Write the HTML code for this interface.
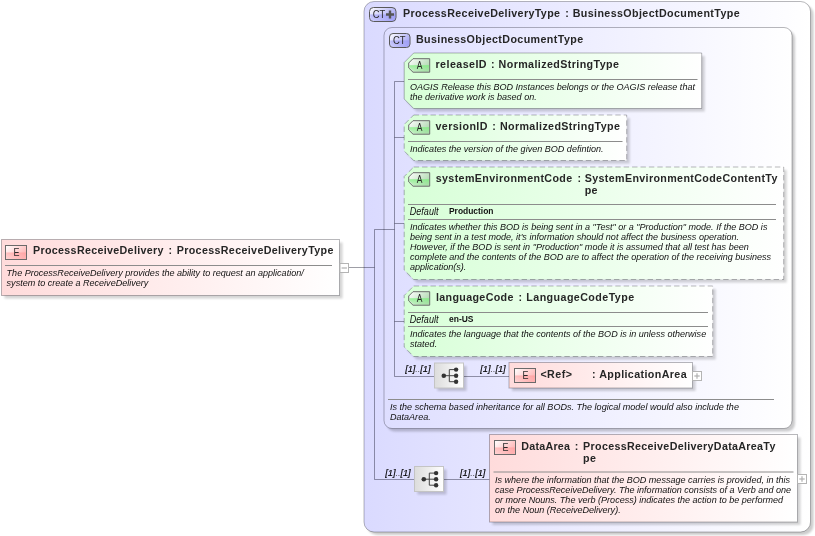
<!DOCTYPE html>
<html><head><meta charset="utf-8"><title>ProcessReceiveDelivery</title>
<style>
html,body{margin:0;padding:0;background:#fff;}
svg{display:block;will-change:transform;font-family:'Liberation Sans',Arial,sans-serif;}
.t{font-size:10.7px;font-weight:bold;fill:#262626;letter-spacing:0.66px;}
.d{font-size:9.6px;font-style:italic;fill:#111;}
.c{font-size:9.4px;font-style:italic;fill:#000;stroke:#000;stroke-width:0.15px;letter-spacing:-0.1px;}
.cd{fill:#555;stroke:none;}
.df{font-size:10.4px;}
.v{font-size:9.5px;font-weight:bold;fill:#111;}
</style></head><body>
<svg width="815" height="536" viewBox="0 0 815 536">
<defs>
<filter id="blur" x="-5%" y="-5%" width="115%" height="115%"><feGaussianBlur stdDeviation="0.9"/></filter>
<linearGradient id="gPink" x1="0" y1="0" x2="1" y2="0"><stop offset="0" stop-color="#ffdbdb"/><stop offset="1" stop-color="#ffffff"/></linearGradient>
<linearGradient id="gGreen" x1="0" y1="0" x2="1" y2="0"><stop offset="0" stop-color="#d7ffd7"/><stop offset="1" stop-color="#ffffff"/></linearGradient>
<linearGradient id="gOuter" x1="0" y1="0" x2="1" y2="0"><stop offset="0" stop-color="#dadaff"/><stop offset="1" stop-color="#ffffff"/></linearGradient>
<linearGradient id="gInner" x1="0" y1="0" x2="1" y2="0"><stop offset="0" stop-color="#dedeff"/><stop offset="1" stop-color="#ffffff"/></linearGradient>
<linearGradient id="gGray" x1="0" y1="0" x2="1" y2="0"><stop offset="0" stop-color="#dcdcdc"/><stop offset="1" stop-color="#ffffff"/></linearGradient>
<linearGradient id="gBadgeE" x1="0" y1="0" x2="1" y2="0.6"><stop offset="0" stop-color="#ffffff"/><stop offset="1" stop-color="#ffb4b4"/></linearGradient>
<linearGradient id="gGlossE" x1="0" y1="0" x2="0" y2="1"><stop offset="0" stop-color="#ff9090" stop-opacity="0.55"/><stop offset="1" stop-color="#ffb0b0" stop-opacity="0.25"/></linearGradient>
<linearGradient id="gBadgeA" x1="0" y1="0" x2="1" y2="0.6"><stop offset="0" stop-color="#ffffff"/><stop offset="1" stop-color="#b0d8b0"/></linearGradient>
<linearGradient id="gGlossA" x1="0" y1="0" x2="0" y2="1"><stop offset="0" stop-color="#70f070" stop-opacity="0.7"/><stop offset="1" stop-color="#a0f0a0" stop-opacity="0.3"/></linearGradient>
<linearGradient id="gBadgeC" x1="0" y1="0" x2="1" y2="0.6"><stop offset="0" stop-color="#ffffff"/><stop offset="1" stop-color="#a4a4f4"/></linearGradient>
<linearGradient id="gGlossC" x1="0" y1="0" x2="0" y2="1"><stop offset="0" stop-color="#9090f4" stop-opacity="0.55"/><stop offset="1" stop-color="#b0b0ff" stop-opacity="0.25"/></linearGradient>
</defs>

<g transform="translate(3,3)" fill="#000" opacity="0.2" filter="url(#blur)"><rect x="364" y="1.5" width="446.5" height="530.5" rx="10"/></g>
<rect x="364" y="1.5" width="446.5" height="530.5" rx="10" fill="url(#gOuter)" stroke="rgba(0,0,10,0.28)" stroke-width="1"/>
<rect x="369.5" y="7.5" width="26.5" height="14" rx="4" fill="url(#gBadgeC)" stroke="#5a5a5a"/>
<path d="M370.2,14.5 H395.3 V18 Q395.3,20.8 392.5,20.8 H373 Q370.2,20.8 370.2,18 Z" fill="url(#gGlossC)"/>
<text transform="translate(372.8,18.3) scale(0.9,1)" font-size="10.5" fill="#2a2a2a">CT</text>
<path d="M386,14.5 h8 M390,10.5 v8" stroke="#555" stroke-width="2.4" fill="none"/>
<text x="403.00" y="16.6" class="t" style="letter-spacing:0.371px">ProcessReceiveDeliveryType</text><text x="565.20" y="16.6" class="t">:</text><text x="572.70" y="16.6" class="t" style="letter-spacing:0.389px">BusinessObjectDocumentType</text>
<g transform="translate(3,3)" fill="#000" opacity="0.2" filter="url(#blur)"><rect x="384" y="27.5" width="408" height="401" rx="8"/></g>
<rect x="384" y="27.5" width="408" height="401" rx="8" fill="url(#gInner)" stroke="rgba(0,0,10,0.28)" stroke-width="1"/>
<rect x="389.5" y="33.5" width="20.5" height="14" rx="3.5" fill="url(#gBadgeC)" stroke="#5a5a5a"/>
<path d="M390.2,40.5 H409.3 V44 Q409.3,46.8 406.5,46.8 H393 Q390.2,46.8 390.2,44 Z" fill="url(#gGlossC)"/>
<text transform="translate(399.2,44.4) scale(0.9,1)" font-size="10.5" fill="#2a2a2a" text-anchor="middle">CT</text>
<text x="415.90" y="42.6" class="t" style="letter-spacing:0.401px">BusinessObjectDocumentType</text>
<polyline points="349,267.5 374.5,267.5" fill="none" stroke="rgba(0,0,20,0.38)" stroke-width="1"/>
<polyline points="394.5,229.5 374.5,229.5 374.5,479.5 414.5,479.5" fill="none" stroke="rgba(0,0,20,0.38)" stroke-width="1"/>
<polyline points="444,479.5 489.5,479.5" fill="none" stroke="rgba(0,0,20,0.38)" stroke-width="1"/>
<polyline points="404.5,81.5 394.5,81.5 394.5,376.5 434,376.5" fill="none" stroke="rgba(0,0,20,0.38)" stroke-width="1"/>
<polyline points="463,376.5 509,376.5" fill="none" stroke="rgba(0,0,20,0.38)" stroke-width="1"/>
<polyline points="394.5,137.5 404.5,137.5" fill="none" stroke="rgba(0,0,20,0.38)" stroke-width="1"/>
<polyline points="394.5,223.5 404.5,223.5" fill="none" stroke="rgba(0,0,20,0.38)" stroke-width="1"/>
<polyline points="394.5,321.5 404.5,321.5" fill="none" stroke="rgba(0,0,20,0.38)" stroke-width="1"/>
<g transform="translate(3,3)" fill="#000" opacity="0.17" filter="url(#blur)"><rect x="1.5" y="239.5" width="338" height="56"/></g><rect x="1.5" y="239.5" width="338" height="56" fill="url(#gPink)" stroke="rgba(0,0,10,0.28)" stroke-width="1"/>
<rect x="5.5" y="245.5" width="21" height="14" fill="url(#gBadgeE)" stroke="#6a6a6a" stroke-width="1"/><rect x="6.1" y="252.5" width="19.8" height="6.4" fill="url(#gGlossE)"/><text transform="translate(16.5,256.3) scale(0.9,1)" font-size="10" text-anchor="middle" fill="#2a2a2a">E</text>
<text x="33.00" y="254.0" class="t" style="letter-spacing:0.327px">ProcessReceiveDelivery</text><text x="168.60" y="254.0" class="t">:</text><text x="176.70" y="254.0" class="t" style="letter-spacing:0.359px">ProcessReceiveDeliveryType</text>
<line x1="5" y1="265.5" x2="332" y2="265.5" stroke="#8c8c8c" stroke-width="1"/>
<text x="6.6" y="275.6" class="d" textLength="297.13" lengthAdjust="spacingAndGlyphs">The ProcessReceiveDelivery provides the ability to request an application/</text><text x="6.6" y="285.6" class="d" textLength="141.73" lengthAdjust="spacingAndGlyphs">system to create a ReceiveDelivery</text>
<rect x="340" y="263.5" width="8.5" height="9" fill="#fff" stroke="#b4b4b4" stroke-width="1"/><line x1="341.55" y1="268.0" x2="346.95" y2="268.0" stroke="#b0b0b0" stroke-width="1.2"/>
<g transform="translate(3,3)" fill="#000" opacity="0.17" filter="url(#blur)"><path d="M413.7,53 L701.7,53 L701.7,108.5 L413.7,108.5 L404.2,99.0 L404.2,62.5 Z"/></g><path d="M413.7,53 L701.7,53 L701.7,108.5 L413.7,108.5 L404.2,99.0 L404.2,62.5 Z" fill="url(#gGreen)" stroke="rgba(0,0,10,0.28)" stroke-width="1"/>
<path d="M413.0,58.7 L429.7,58.7 L429.7,72.2 L413.0,72.2 L408.7,67.9 L408.7,63.0 Z" fill="url(#gBadgeA)" stroke="#6a6a6a" stroke-width="1"/><path d="M409.3,65.3 L429.09999999999997,65.3 L429.09999999999997,71.60000000000001 L413.3,71.60000000000001 L409.3,67.60000000000001 Z" fill="url(#gGlossA)"/><text transform="translate(419.7,69.3) scale(0.85,1)" font-size="10" text-anchor="middle" fill="#2a2a2a">A</text>
<text x="435.50" y="67.7" class="t" style="letter-spacing:0.438px">releaseID</text><text x="490.90" y="67.7" class="t">:</text><text x="498.60" y="67.7" class="t" style="letter-spacing:0.402px">NormalizedStringType</text>
<line x1="408" y1="79.5" x2="697.5" y2="79.5" stroke="#8c8c8c" stroke-width="1"/>
<text x="410" y="89.9" class="d" textLength="284.96" lengthAdjust="spacingAndGlyphs">OAGIS Release this BOD Instances belongs or the OAGIS release that</text><text x="410" y="99.9" class="d" textLength="126.71" lengthAdjust="spacingAndGlyphs">the derivative work is based on.</text>
<g transform="translate(3,3)" fill="#000" opacity="0.17" filter="url(#blur)"><path d="M413.7,115 L626.7,115 L626.7,160.5 L413.7,160.5 L404.2,151.0 L404.2,124.5 Z"/></g><path d="M413.7,115 L626.7,115 L626.7,160.5 L413.7,160.5 L404.2,151.0 L404.2,124.5 Z" fill="url(#gGreen)" stroke="rgba(0,0,10,0.28)" stroke-width="1" stroke-dasharray="5.4,3"/>
<path d="M413.0,120.7 L429.7,120.7 L429.7,134.2 L413.0,134.2 L408.7,129.89999999999998 L408.7,125.0 Z" fill="url(#gBadgeA)" stroke="#6a6a6a" stroke-width="1"/><path d="M409.3,127.3 L429.09999999999997,127.3 L429.09999999999997,133.6 L413.3,133.6 L409.3,129.59999999999997 Z" fill="url(#gGlossA)"/><text transform="translate(419.7,131.3) scale(0.85,1)" font-size="10" text-anchor="middle" fill="#2a2a2a">A</text>
<text x="435.50" y="129.7" class="t" style="letter-spacing:0.405px">versionID</text><text x="492.20" y="129.7" class="t">:</text><text x="499.90" y="129.7" class="t" style="letter-spacing:0.386px">NormalizedStringType</text>
<line x1="408" y1="141.5" x2="622.5" y2="141.5" stroke="#8c8c8c" stroke-width="1"/>
<text x="410" y="152.0" class="d" textLength="193.59" lengthAdjust="spacingAndGlyphs">Indicates the version of the given BOD defintion.</text>
<g transform="translate(3,3)" fill="#000" opacity="0.17" filter="url(#blur)"><path d="M413.7,167 L783.7,167 L783.7,279.5 L413.7,279.5 L404.2,270.0 L404.2,176.5 Z"/></g><path d="M413.7,167 L783.7,167 L783.7,279.5 L413.7,279.5 L404.2,270.0 L404.2,176.5 Z" fill="url(#gGreen)" stroke="rgba(0,0,10,0.28)" stroke-width="1" stroke-dasharray="5.4,3"/>
<path d="M413.0,172.7 L429.7,172.7 L429.7,186.2 L413.0,186.2 L408.7,181.89999999999998 L408.7,177.0 Z" fill="url(#gBadgeA)" stroke="#6a6a6a" stroke-width="1"/><path d="M409.3,179.29999999999998 L429.09999999999997,179.29999999999998 L429.09999999999997,185.6 L413.3,185.6 L409.3,181.59999999999997 Z" fill="url(#gGlossA)"/><text transform="translate(419.7,183.29999999999998) scale(0.85,1)" font-size="10" text-anchor="middle" fill="#2a2a2a">A</text>
<text x="435.70" y="181.6" class="t" style="letter-spacing:0.383px">systemEnvironmentCode</text><text x="577.40" y="181.6" class="t">:</text><text x="584.70" y="181.6" class="t" style="letter-spacing:0.365px">SystemEnvironmentCodeContentTy</text><text x="584.70" y="193.6" class="t" style="letter-spacing:0.365px">pe</text>
<line x1="408" y1="204.5" x2="776" y2="204.5" stroke="#8c8c8c" stroke-width="1"/>
<text x="409.8" y="215.0" class="d df" textLength="28.66" lengthAdjust="spacingAndGlyphs">Default</text>
<text x="449" y="213.7" class="v" textLength="44.5" lengthAdjust="spacingAndGlyphs">Production</text>
<line x1="408" y1="219.5" x2="776" y2="219.5" stroke="#8c8c8c" stroke-width="1"/>
<text x="410" y="229.9" class="d" textLength="357.42" lengthAdjust="spacingAndGlyphs">Indicates whether this BOD is being sent in a "Test" or a "Production" mode. If the BOD is</text><text x="410" y="239.9" class="d" textLength="329.12" lengthAdjust="spacingAndGlyphs">being sent in a test mode, it's information should not affect the business operation.</text><text x="410" y="249.9" class="d" textLength="338.76" lengthAdjust="spacingAndGlyphs">However, if the BOD is sent in "Production" mode it is assumed that all test has been</text><text x="410" y="259.9" class="d" textLength="361.02" lengthAdjust="spacingAndGlyphs">complete and the contents of the BOD are to affect the operation of the receiving business</text><text x="410" y="269.9" class="d" textLength="56.33" lengthAdjust="spacingAndGlyphs">application(s).</text>
<g transform="translate(3,3)" fill="#000" opacity="0.17" filter="url(#blur)"><path d="M413.7,286 L712.7,286 L712.7,356.5 L413.7,356.5 L404.2,347.0 L404.2,295.5 Z"/></g><path d="M413.7,286 L712.7,286 L712.7,356.5 L413.7,356.5 L404.2,347.0 L404.2,295.5 Z" fill="url(#gGreen)" stroke="rgba(0,0,10,0.28)" stroke-width="1" stroke-dasharray="5.4,3"/>
<path d="M413.0,291.7 L429.7,291.7 L429.7,305.2 L413.0,305.2 L408.7,300.9 L408.7,296.0 Z" fill="url(#gBadgeA)" stroke="#6a6a6a" stroke-width="1"/><path d="M409.3,298.3 L429.09999999999997,298.3 L429.09999999999997,304.59999999999997 L413.3,304.59999999999997 L409.3,300.59999999999997 Z" fill="url(#gGlossA)"/><text transform="translate(419.7,302.3) scale(0.85,1)" font-size="10" text-anchor="middle" fill="#2a2a2a">A</text>
<text x="436.00" y="300.5" class="t" style="letter-spacing:0.343px">languageCode</text><text x="518.40" y="300.5" class="t">:</text><text x="526.30" y="300.5" class="t" style="letter-spacing:0.430px">LanguageCodeType</text>
<line x1="408" y1="312.5" x2="708" y2="312.5" stroke="#8c8c8c" stroke-width="1"/>
<text x="409.8" y="322.9" class="d df" textLength="28.66" lengthAdjust="spacingAndGlyphs">Default</text>
<text x="449" y="321.6" class="v" style="font-size:8.8px" textLength="24.5" lengthAdjust="spacingAndGlyphs">en-US</text>
<line x1="408" y1="326.5" x2="708" y2="326.5" stroke="#8c8c8c" stroke-width="1"/>
<text x="410" y="337.2" class="d" textLength="296.16" lengthAdjust="spacingAndGlyphs">Indicates the language that the contents of the BOD is in unless otherwise</text><text x="410" y="347.2" class="d" textLength="27.16" lengthAdjust="spacingAndGlyphs">stated.</text>
<text x="405.2" y="372.2" class="c">[1]<tspan class="cd">..</tspan>[1]</text>
<g transform="translate(3,3)" fill="#000" opacity="0.17" filter="url(#blur)"><rect x="434.5" y="363" width="29" height="25"/></g><rect x="434.5" y="363" width="29" height="25" fill="url(#gGray)" stroke="#c4c4c4" stroke-width="1"/><g stroke="#444" stroke-width="1" fill="none"><path d="M443.8,375.7 H456.3 M449.3,369.59999999999997 V381.7 M449.3,369.59999999999997 H455.8 M449.3,381.7 H455.8"/></g><g fill="#333"><circle cx="443.8" cy="375.7" r="2.3"/><circle cx="456.1" cy="369.59999999999997" r="2.2"/><circle cx="456.1" cy="375.7" r="2.2"/><circle cx="456.1" cy="381.7" r="2.2"/></g>
<text x="480.3" y="372.2" class="c">[1]<tspan class="cd">..</tspan>[1]</text>
<g transform="translate(3,3)" fill="#000" opacity="0.17" filter="url(#blur)"><rect x="509" y="362.5" width="183.5" height="25.5"/></g><rect x="509" y="362.5" width="183.5" height="25.5" fill="url(#gPink)" stroke="rgba(0,0,10,0.28)" stroke-width="1"/>
<rect x="514.5" y="368.5" width="21" height="14" fill="url(#gBadgeE)" stroke="#6a6a6a" stroke-width="1"/><rect x="515.1" y="375.5" width="19.8" height="6.4" fill="url(#gGlossE)"/><text transform="translate(525.5,379.3) scale(0.9,1)" font-size="10" text-anchor="middle" fill="#2a2a2a">E</text>
<text x="540.40" y="377.5" class="t" style="letter-spacing:0.466px">&lt;Ref&gt;</text><text x="592.00" y="377.5" class="t">:</text><text x="599.20" y="377.5" class="t" style="letter-spacing:0.391px">ApplicationArea</text>
<rect x="692.5" y="371.5" width="9" height="9" fill="#fff" stroke="#b4b4b4" stroke-width="1"/><line x1="694.3" y1="376.0" x2="699.7" y2="376.0" stroke="#b0b0b0" stroke-width="1.2"/><line x1="697.0" y1="373.3" x2="697.0" y2="378.7" stroke="#b0b0b0" stroke-width="1.2"/>
<line x1="388" y1="399.5" x2="774" y2="399.5" stroke="#8c8c8c" stroke-width="1"/>
<text x="390" y="410.2" class="d" textLength="348.91" lengthAdjust="spacingAndGlyphs">Is the schema based inheritance for all BODs. The logical model would also include the</text><text x="390" y="420.2" class="d" textLength="40.70" lengthAdjust="spacingAndGlyphs">DataArea.</text>
<text x="385.3" y="476.2" class="c">[1]<tspan class="cd">..</tspan>[1]</text>
<g transform="translate(3,3)" fill="#000" opacity="0.17" filter="url(#blur)"><rect x="414.5" y="466.5" width="29" height="25"/></g><rect x="414.5" y="466.5" width="29" height="25" fill="url(#gGray)" stroke="#c4c4c4" stroke-width="1"/><g stroke="#444" stroke-width="1" fill="none"><path d="M423.8,479.2 H436.3 M429.3,473.09999999999997 V485.2 M429.3,473.09999999999997 H435.8 M429.3,485.2 H435.8"/></g><g fill="#333"><circle cx="423.8" cy="479.2" r="2.3"/><circle cx="436.1" cy="473.09999999999997" r="2.2"/><circle cx="436.1" cy="479.2" r="2.2"/><circle cx="436.1" cy="485.2" r="2.2"/></g>
<text x="460.1" y="476.2" class="c">[1]<tspan class="cd">..</tspan>[1]</text>
<g transform="translate(3,3)" fill="#000" opacity="0.17" filter="url(#blur)"><rect x="489.5" y="434.5" width="308" height="87.5"/></g><rect x="489.5" y="434.5" width="308" height="87.5" fill="url(#gPink)" stroke="rgba(0,0,10,0.28)" stroke-width="1"/>
<rect x="494.5" y="440.5" width="21" height="14" fill="url(#gBadgeE)" stroke="#6a6a6a" stroke-width="1"/><rect x="495.1" y="447.5" width="19.8" height="6.4" fill="url(#gGlossE)"/><text transform="translate(505.5,451.3) scale(0.9,1)" font-size="10" text-anchor="middle" fill="#2a2a2a">E</text>
<text x="521.30" y="449.8" class="t" style="letter-spacing:0.249px">DataArea</text><text x="574.70" y="449.8" class="t">:</text><text x="583.10" y="449.8" class="t" style="letter-spacing:0.325px">ProcessReceiveDeliveryDataAreaTy</text><text x="583.10" y="461.8" class="t" style="letter-spacing:0.325px">pe</text>
<line x1="493.5" y1="472" x2="793.5" y2="472" stroke="#8c8c8c" stroke-width="1"/>
<text x="495" y="483.2" class="d" textLength="295.11" lengthAdjust="spacingAndGlyphs">Is where the information that the BOD message carries is provided, in this</text><text x="495" y="493.2" class="d" textLength="296.06" lengthAdjust="spacingAndGlyphs">case ProcessReceiveDelivery. The information consists of a Verb and one</text><text x="495" y="503.2" class="d" textLength="288.03" lengthAdjust="spacingAndGlyphs">or more Nouns. The verb (Process) indicates the action to be performed</text><text x="495" y="513.2" class="d" textLength="125.66" lengthAdjust="spacingAndGlyphs">on the Noun (ReceiveDelivery).</text>
<rect x="797.5" y="474.5" width="9" height="9" fill="#fff" stroke="#b4b4b4" stroke-width="1"/><line x1="799.3" y1="479.0" x2="804.7" y2="479.0" stroke="#b0b0b0" stroke-width="1.2"/><line x1="802.0" y1="476.3" x2="802.0" y2="481.7" stroke="#b0b0b0" stroke-width="1.2"/>
</svg></body></html>
